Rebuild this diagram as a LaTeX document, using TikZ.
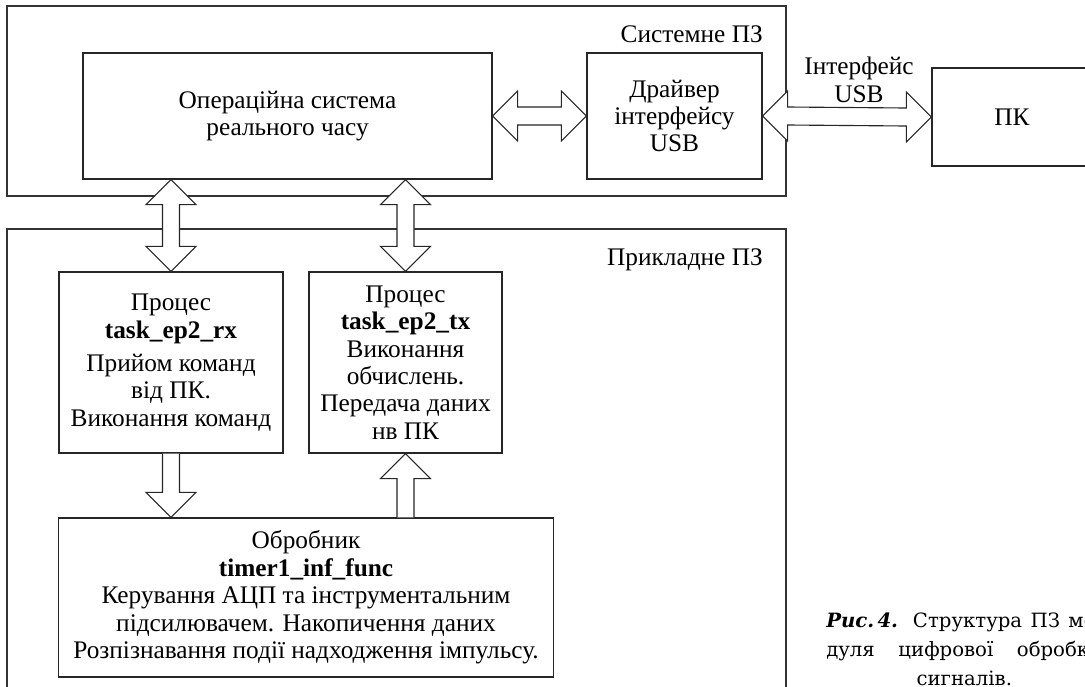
\documentclass[tikz,border=0pt]{standalone}
\usepackage{fontspec}
\setmainfont{Liberation Serif}
\newfontfamily\capfont{DejaVu Serif}
\usetikzlibrary{calc}

% hollow block arrows (units: pixels, y grows downwards)
\newcommand{\hdblarrow}[2]{%
  \draw[blkarrow] (#1) -- ($(#1)+(25,-25)$) -- ($(#1)+(25,-9)$) -- ($(#2)+(-25,-9)$)
    -- ($(#2)+(-25,-25)$) -- (#2) -- ($(#2)+(-25,25)$) -- ($(#2)+(-25,9)$)
    -- ($(#1)+(25,9)$) -- ($(#1)+(25,25)$) -- cycle;}
\newcommand{\vdblarrow}[2]{%
  \draw[blkarrow] (#1) -- ($(#1)+(-25,25)$) -- ($(#1)+(-8.5,25)$) -- ($(#2)+(-8.5,-25)$)
    -- ($(#2)+(-25,-25)$) -- (#2) -- ($(#2)+(25,-25)$) -- ($(#2)+(8.5,-25)$)
    -- ($(#1)+(8.5,25)$) -- ($(#1)+(25,25)$) -- cycle;}
\newcommand{\downblk}[2]{%
  \draw[blkarrow] ($(#1)+(-8.5,0)$) -- ($(#2)+(-8.5,-25)$) -- ($(#2)+(-25,-25)$) -- (#2)
    -- ($(#2)+(25,-25)$) -- ($(#2)+(8.5,-25)$) -- ($(#1)+(8.5,0)$);}
\newcommand{\upblk}[2]{%
  \draw[blkarrow] ($(#1)+(-8.5,0)$) -- ($(#2)+(-8.5,25)$) -- ($(#2)+(-25,25)$) -- (#2)
    -- ($(#2)+(25,25)$) -- ($(#2)+(8.5,25)$) -- ($(#1)+(8.5,0)$);}

\tikzset{
  area/.style={draw=black!80, line width=1pt, inner sep=0pt},
  block/.style={draw=black!85, line width=0.8pt, align=center, inner sep=0pt,
    font=\fontsize{18}{19.5}\selectfont},
  lbl/.style={inner sep=0pt, align=center, font=\fontsize{18}{19.5}\selectfont},
  blkarrow/.style={draw=black!85, line width=0.8pt, fill=white, line join=miter},
}

\begin{document}
\begin{tikzpicture}[x=0.025cm, y=-0.025cm]
    \useasboundingbox (0,0) rectangle (1085,686);
    \clip (0,0) rectangle (1085,686);

    % System software
    \node[area, minimum width=19.475cm, minimum height=4.75cm] (sys) at (396.5,101) {};
    \node[lbl, anchor=base east] (syslbl) at (763,42) {Системне ПЗ};
    \node[block, minimum width=10.225cm, minimum height=3.15cm] (os) at (287.5,116)
        {Операційна система\\реального часу};
    \node[block, minimum width=4.375cm, minimum height=3.15cm] (drv) at (674.5,116)
        {Драйвер\\інтерфейсу\\USB};

    % PC
    \node[block, minimum width=4cm, minimum height=2.45cm] (pc) at (1012,117) {ПК};
    \node[lbl] (usb) at (859,80) {Інтерфейс\\USB};

    % Application software
    \node[area, minimum width=19.475cm, minimum height=11.775cm] (app) at (396.5,464.5) {};
    \node[lbl, anchor=base east] (applbl) at (763,265) {Прикладне ПЗ};
    \node[block, minimum width=5.6cm, minimum height=4.525cm] (rx) at (171,362.5)
        {Процес\\\textbf{task\_ep2\_rx}\\[4pt]Прийом команд\\від ПК.\\Виконання команд};
    \node[block, minimum width=4.825cm, minimum height=4.525cm] (tx) at (405.5,362.5)
        {Процес\\\textbf{task\_ep2\_tx}\\Виконання\\обчислень.\\Передача даних\\нв ПК};
    \node[block, minimum width=12.35cm, minimum height=3.975cm] (isr) at (306,597.5)
        {Обробник\\\textbf{timer1\_inf\_func}\\Керування АЦП та інструментальним\\
         підсилювачем. Накопичення даних\\Розпізнавання події надходження імпульсу.};

    % Arrows
    \hdblarrow{os.east}{drv.west}
    \hdblarrow{drv.east}{pc.west}
    \vdblarrow{os.south -| rx.north}{rx.north}
    \vdblarrow{os.south -| tx.north}{tx.north}
    \downblk{rx.south}{isr.north -| rx.south}
    \upblk{isr.north -| tx.south}{tx.south}

    % Caption
    \node[anchor=north west, align=center, inner sep=0pt,
          font=\capfont\fontsize{14}{20.5}\selectfont] (cap)
        at (826,613) {\makebox[6.9cm][s]{\textbf{\textit{Рис.\,4.}} Структура ПЗ мо-}\\
        \makebox[6.9cm][s]{дуля цифрової обробки}\\сигналів.};
\end{tikzpicture}
\end{document}
